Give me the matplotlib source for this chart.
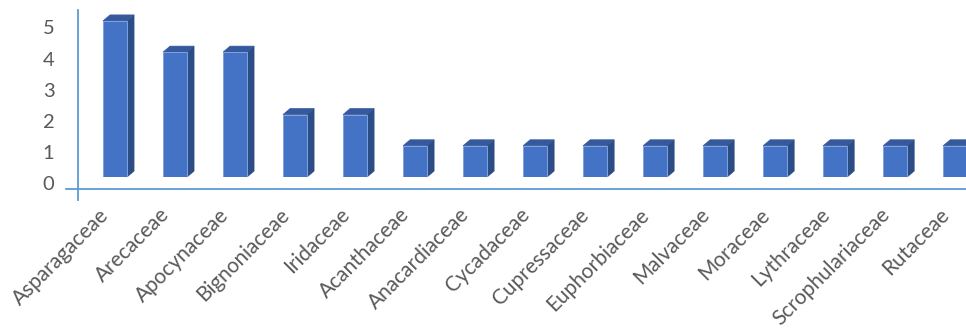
import matplotlib
matplotlib.use("Agg")
import matplotlib.pyplot as plt
from matplotlib.patches import Polygon
from matplotlib.lines import Line2D
from matplotlib.transforms import ScaledTranslation, IdentityTransform

# data
families = ["Asparagaceae", "Arecaceae", "Apocynaceae", "Bignoniaceae", "Iridaceae",
            "Acanthaceae", "Anacardiaceae", "Cycadaceae", "Cupressaceae", "Euphorbiaceae",
            "Malvaceae", "Moraceae", "Lythraceae", "Scrophulariaceae", "Rutaceae"]
counts = [5, 4, 4, 2, 2, 1, 1, 1, 1, 1, 1, 1, 1, 1, 1]
yticks = [0, 1, 2, 3, 4, 5]

plt.rcParams["font.family"] = ["Lato", "DejaVu Sans"]

FRONT = "#4472C4"
SIDE = "#2C4C85"
TOP = "#35599C"
EDGE = "#7FA2E0"
AXIS = "#5B9BD5"
TEXT = "#595959"

W, H = 966, 329
fig = plt.figure(figsize=(W / 100, H / 100), dpi=100)
# axes area: x from 78 px to right edge, y from 10 px to 177 px (bar floor)
ax = fig.add_axes([78 / W, (H - 177) / H, (W - 78) / W, (177 - 10) / H])
ax.set_xlim(-0.617, 14.18)
ax.set_ylim(0, 5.35)
for s in ax.spines.values():
    s.set_visible(False)

x = list(range(len(families)))
bw = 0.4
ax.bar(x, counts, width=bw, color=FRONT, edgecolor=EDGE, linewidth=0.7, zorder=3)

# fake 3d depth: side and top faces, offset in pixels
dx, dy = 7, 6
for xi, h in zip(x, counts):
    (xl, y0), (xr, y1) = ax.transData.transform([(xi - bw / 2, 0), (xi + bw / 2, h)])
    side = [(xr, y0), (xr, y1), (xr + dx, y1 + dy), (xr + dx, y0 + dy)]
    top = [(xl, y1), (xr, y1), (xr + dx, y1 + dy), (xl + dx, y1 + dy)]
    ax.add_patch(Polygon(side, closed=True, facecolor=SIDE, edgecolor=SIDE, lw=0.5,
                         transform=IdentityTransform(), clip_on=False, zorder=2))
    ax.add_patch(Polygon(top, closed=True, facecolor=TOP, edgecolor=TOP, lw=0.5,
                         transform=IdentityTransform(), clip_on=False, zorder=2))

ax.set_yticks(yticks, [str(v) for v in yticks], fontsize=14.5, color=TEXT)
ax.set_xticks(x, families, fontsize=15, color=TEXT, rotation=45, ha="right",
              va="center", rotation_mode="anchor")
ax.tick_params(axis="y", length=0, pad=17)
ax.tick_params(axis="x", length=0, pad=25)

yshift = ScaledTranslation(0, -6.5 / 100, fig.dpi_scale_trans)
for lab in ax.get_yticklabels():
    lab.set_transform(lab.get_transform() + yshift)
xshift = ScaledTranslation(-9 / 100, 0, fig.dpi_scale_trans)
for lab in ax.get_xticklabels():
    lab.set_transform(lab.get_transform() + xshift)

# axis lines (drawn like the excel 3d floor)
fig.add_artist(Line2D([78 / W, 78 / W], [1 - 10 / H, 1 - 200 / H], color=AXIS, lw=1.3))
fig.add_artist(Line2D([66 / W, 1], [1 - 189 / H, 1 - 189 / H], color=AXIS, lw=1.3))

fig.savefig("out.png", dpi=100)
